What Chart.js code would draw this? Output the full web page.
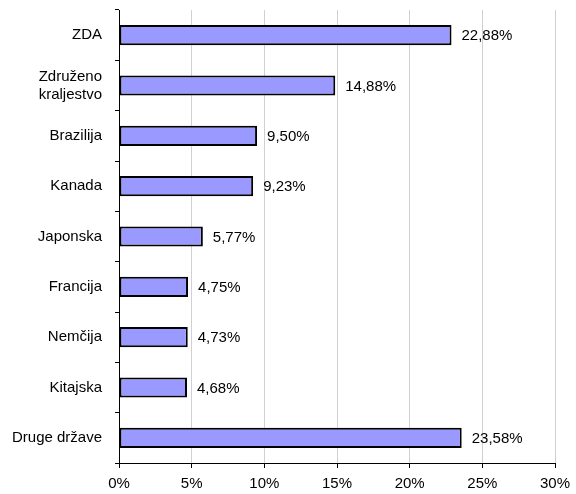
<!DOCTYPE html>
<html>
<head>
<meta charset="utf-8">
<script src="https://cdn.jsdelivr.net/npm/chart.js@4/dist/chart.umd.min.js"></script>
<style>
  html, body { margin: 0; padding: 0; background: #fff; }
  #wrap { width: 576px; height: 494px; }
</style>
</head>
<body>
<div id="wrap"><canvas id="c" width="576" height="494"></canvas></div>
<script>
const countries = ['ZDA', ['Združeno', 'kraljestvo'], 'Brazilija', 'Kanada', 'Japonska', 'Francija', 'Nemčija', 'Kitajska', 'Druge države'];
const shares = [22.88, 14.88, 9.50, 9.23, 5.77, 4.75, 4.73, 4.68, 23.58];
const axisMax = 30;
const axisStep = 5;

const FONT = '"Liberation Sans", Arial, sans-serif';
const fmt = v => v.toFixed(2).replace('.', ',') + '%';

// Writes each bar's share just past its right end
const valueLabels = {
  id: 'valueLabels',
  afterDatasetsDraw(chart) {
    const ctx = chart.ctx;
    const meta = chart.getDatasetMeta(0);
    ctx.save();
    ctx.font = '15px ' + FONT;
    ctx.fillStyle = '#000';
    ctx.textAlign = 'left';
    ctx.textBaseline = 'middle';
    meta.data.forEach((bar, i) => {
      ctx.fillText(fmt(shares[i]), bar.x + 10, bar.y + 1);
    });
    ctx.restore();
  }
};

new Chart(document.getElementById('c'), {
  type: 'bar',
  data: {
    labels: countries,
    datasets: [{
      data: shares,
      backgroundColor: '#9999ff',
      borderColor: '#000',
      borderWidth: 2,
      borderSkipped: false,
      barPercentage: 0.4,
      categoryPercentage: 1
    }]
  },
  options: {
    indexAxis: 'y',
    responsive: false,
    animation: false,
    layout: { padding: { top: 10, right: 21, left: 0, bottom: 0 } },
    plugins: { legend: { display: false }, tooltip: { enabled: false } },
    scales: {
      x: {
        min: 0,
        max: axisMax,
        afterFit(scale) {
          scale.height = 31;
          scale.paddingLeft = 0;
          scale.paddingRight = 0;
        },
        ticks: {
          stepSize: axisStep,
          color: '#000',
          padding: 7,
          font: { family: FONT, size: 15 },
          callback: v => v + '%'
        },
        grid: { color: '#d0d0d0', lineWidth: 1, tickLength: 5, tickColor: '#000' },
        border: { color: '#000', width: 1 }
      },
      y: {
        afterFit(scale) {
          scale.width = 119;
          scale.paddingTop = 0;
          scale.paddingBottom = 0;
        },
        ticks: {
          color: '#000',
          padding: 13,
          font: { family: FONT, size: 15 }
        },
        grid: { drawOnChartArea: false, offset: true, tickLength: 4, tickColor: '#000' },
        border: { color: '#000', width: 1 }
      }
    }
  },
  plugins: [valueLabels]
});
</script>
</body>
</html>
